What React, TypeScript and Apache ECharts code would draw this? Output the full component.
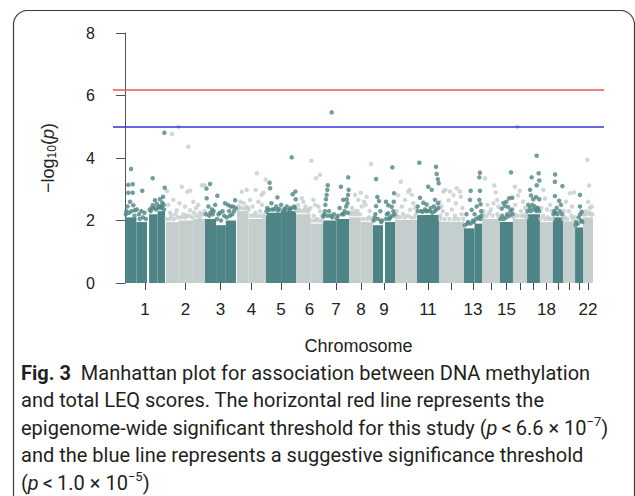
import React, { useEffect, useRef } from 'react';
import * as echarts from 'echarts';

// Chromosomes and their cumulative genomic extent (Mb)
const chromosomes = ['1', '2', '3', '4', '5', '6', '7', '8', '9', '10', '11', '12', '13', '14', '15', '16', '17', '18', '19', '20', '21', '22'];
const chrStart = [0, 252, 492, 689, 867, 1052, 1218, 1378, 1525, 1661, 1796, 1931, 2085, 2196, 2306, 2386, 2472, 2552, 2632, 2694, 2768, 2817];
const chrEnd = [246, 492, 683, 867, 1052, 1218, 1378, 1525, 1661, 1796, 1931, 2085, 2196, 2306, 2386, 2472, 2552, 2632, 2694, 2768, 2817, 2878];
const labelledChromosomes = ['1', '2', '3', '4', '5', '6', '7', '8', '9', '11', '13', '15', '18', '22'];

// Dense body of points per chromosome: [chromosome index, start Mb, end Mb, top -log10(p)]
const bodyBlocks: [number, number, number, number][] = [
  [0, 0, 70, 2.1], [0, 70, 135, 1.95], [0, 148, 200, 2.2], [0, 200, 246, 2.3],
  [1, 252, 330, 1.95], [1, 330, 420, 2.0], [1, 420, 492, 2.05],
  [2, 492, 560, 2.05], [2, 560, 620, 1.85], [2, 620, 683, 2.0],
  [3, 689, 760, 2.3], [3, 760, 867, 2.05],
  [4, 867, 960, 2.25], [4, 960, 1052, 2.3],
  [5, 1052, 1140, 2.2], [5, 1140, 1218, 1.9],
  [6, 1218, 1300, 2.0], [6, 1300, 1378, 2.05],
  [7, 1378, 1450, 2.1], [7, 1450, 1525, 1.95],
  [8, 1525, 1587, 1.85], [8, 1599, 1661, 1.95],
  [9, 1661, 1796, 2.02],
  [10, 1796, 1931, 2.18],
  [11, 1931, 2085, 1.96],
  [12, 2085, 2150, 1.75], [12, 2150, 2196, 1.9],
  [13, 2196, 2306, 2.05],
  [14, 2306, 2386, 1.95],
  [15, 2386, 2472, 2.05],
  [16, 2472, 2552, 2.2],
  [17, 2552, 2632, 1.95],
  [18, 2632, 2694, 2.1],
  [19, 2694, 2768, 1.97],
  [20, 2768, 2817, 1.78],
  [21, 2817, 2878, 2.1],
];

// Sparse points above the dense body: [position Mb, -log10(p)]
const darkPoints: [number, number][] = [
  // chr1
  [37, 3.65], [20, 3.14], [47, 3.16], [20, 2.89], [47, 2.89], [106, 2.95], [170, 3.35], [244, 3.05], [242, 4.81],
  [31, 2.6], [51, 2.49], [61, 2.33], [15, 2.45], [86, 2.2], [215, 2.68], [229, 2.57], [195, 2.53], [170, 2.49],
  [184, 2.65], [234, 2.76], [158, 2.3], [205, 2.4], [8, 2.3], [72, 2.35], [100, 2.3], [120, 2.25], [180, 2.4],
  [222, 2.45], [240, 2.35], [5, 2.2], [25, 2.25], [40, 2.3], [58, 2.15], [90, 2.05], [110, 2.1], [128, 2.05],
  [152, 2.35], [165, 2.4], [190, 2.35], [210, 2.45], [225, 2.4], [238, 2.5],
  // chr3
  [523, 3.17], [501, 3.02], [568, 2.79], [502, 2.71], [615, 2.55], [633, 2.5], [650, 2.45], [677, 2.65], [664, 2.45],
  [535, 2.35], [584, 2.25], [554, 2.5], [600, 2.3], [513, 2.45], [525, 2.25], [545, 2.3], [575, 2.2], [610, 2.15],
  [640, 2.3], [660, 2.2], [498, 2.2], [518, 2.15], [540, 2.2], [565, 2.05], [590, 2.0], [625, 2.1], [645, 2.15],
  [670, 2.3], [680, 2.4],
  // chr5
  [889, 3.21], [892, 3.03], [1025, 4.02], [937, 2.74], [1031, 2.84], [1050, 2.68], [886, 2.34], [917, 2.36],
  [948, 2.37], [979, 2.37], [1010, 2.34], [1030, 2.23], [1048, 2.93], [900, 2.55], [960, 2.5], [995, 2.45], [1040, 2.45],
  [875, 2.4], [930, 2.45], [970, 2.28], [1020, 2.4], [870, 2.3], [905, 2.35], [940, 2.32], [985, 2.35], [1015, 2.35],
  [1045, 2.4],
  // chr7
  [1247, 3.13], [1244, 2.98], [1240, 2.82], [1236, 2.68], [1271, 5.46], [1328, 3.08], [1373, 3.38], [1375, 2.98],
  [1372, 2.82], [1363, 2.68], [1342, 2.66], [1368, 2.55], [1220, 2.13], [1302, 2.07], [1232, 2.5], [1255, 2.3],
  [1320, 2.4], [1350, 2.3], [1285, 2.2], [1230, 2.3], [1265, 2.15], [1335, 2.2], [1360, 2.45], [1225, 2.2],
  [1245, 2.15], [1275, 2.1], [1310, 2.15], [1345, 2.2], [1370, 2.25],
  // chr9
  [1544, 3.33], [1552, 2.75], [1562, 2.62], [1544, 2.46], [1605, 2.6], [1619, 2.49], [1644, 3.7], [1655, 2.87],
  [1653, 2.6], [1640, 2.44], [1619, 2.23], [1570, 2.3], [1535, 2.1], [1630, 2.1], [1540, 2.2], [1580, 2.0],
  [1610, 2.2], [1650, 2.3], [1530, 2.0], [1555, 2.05], [1575, 1.95], [1605, 2.05], [1625, 2.05], [1645, 2.15], [1658, 2.2],
  // chr11
  [1810, 3.85], [1913, 3.72], [1917, 3.49], [1924, 3.32], [1929, 3.19], [1865, 3.08], [1886, 2.98], [1814, 2.73],
  [1835, 2.57], [1855, 2.51], [1906, 2.66], [1880, 2.4], [1900, 2.45], [1925, 2.55], [1800, 2.45], [1845, 2.35],
  [1820, 2.3], [1860, 2.3], [1890, 2.25], [1915, 2.35], [1800, 2.3], [1830, 2.28], [1850, 2.3], [1875, 2.3],
  [1905, 2.3], [1928, 2.4],
  // chr13
  [2183, 3.53], [2179, 3.38], [2126, 2.95], [2183, 2.95], [2122, 2.66], [2179, 2.66], [2187, 2.52], [2163, 2.45],
  [2132, 2.34], [2100, 2.2], [2150, 2.2], [2190, 2.3], [2110, 1.95], [2140, 2.0], [2175, 2.1], [2090, 1.85],
  [2105, 1.9], [2125, 1.9], [2145, 1.95], [2160, 2.05], [2185, 2.05], [2192, 2.15],
  // chr15
  [2374, 3.54], [2382, 2.73], [2363, 2.71], [2337, 2.46], [2317, 2.38], [2357, 2.43], [2327, 2.56], [2345, 2.6],
  [2370, 2.3], [2320, 2.15], [2350, 2.2], [2380, 2.35], [2310, 2.05], [2330, 2.05], [2345, 2.1], [2365, 2.15], [2383, 2.2],
  // chr17
  [2532, 4.07], [2544, 3.51], [2501, 3.38], [2532, 3.13], [2548, 3.28], [2528, 2.75], [2491, 2.98], [2497, 2.8],
  [2511, 2.68], [2548, 2.68], [2480, 2.5], [2520, 2.45], [2540, 2.4], [2490, 2.4], [2505, 2.5], [2535, 2.35],
  [2476, 2.3], [2495, 2.3], [2515, 2.35], [2530, 2.3], [2548, 2.3],
  // chr19
  [2645, 3.47], [2644, 3.24], [2690, 3.1], [2644, 2.78], [2670, 2.63], [2681, 2.5], [2655, 2.4], [2640, 2.3],
  [2648, 2.25], [2675, 2.3], [2636, 2.2], [2660, 2.2], [2688, 2.2],
  // chr21
  [2798, 2.82], [2798, 2.45], [2809, 2.28], [2790, 2.1], [2805, 2.0], [2775, 1.95], [2800, 2.2], [2772, 1.85],
  [2785, 1.9], [2812, 1.95],
];

const lightPoints: [number, number][] = [
  // chr2
  [289, 4.77], [329, 5.0], [389, 4.36], [349, 3.08], [383, 2.92], [400, 2.95], [472, 3.13], [488, 3.13], [258, 2.94],
  [297, 2.66], [266, 2.5], [318, 2.33], [400, 2.33], [369, 2.45], [437, 2.4], [277, 2.25], [461, 2.25], [335, 2.55],
  [420, 2.6], [450, 2.5], [285, 2.15], [310, 2.2], [360, 2.2], [380, 2.15], [425, 2.25], [470, 2.2], [256, 2.05],
  [275, 2.05], [300, 2.05], [325, 2.1], [345, 2.1], [370, 2.1], [395, 2.15], [415, 2.1], [440, 2.15], [460, 2.1],
  [480, 2.2], [490, 2.3],
  // chr4
  [810, 3.51], [748, 2.98], [718, 2.92], [804, 2.98], [851, 2.89], [865, 3.31], [769, 2.66], [820, 2.6], [748, 2.43],
  [697, 2.38], [843, 2.5], [840, 2.82], [730, 2.55], [785, 2.45], [710, 2.6], [700, 2.45], [760, 2.35], [800, 2.25],
  [830, 2.3], [860, 2.2], [693, 2.35], [715, 2.4], [735, 2.38], [755, 2.4], [775, 2.15], [795, 2.15], [815, 2.15],
  [835, 2.15], [855, 2.1],
  // chr6
  [1146, 3.91], [1199, 3.46], [1175, 3.35], [1087, 2.71], [1097, 2.6], [1158, 2.66], [1169, 2.5], [1127, 2.34],
  [1189, 2.45], [1199, 2.3], [1065, 2.5], [1110, 2.45], [1140, 2.4], [1210, 2.15], [1070, 2.35], [1100, 2.3],
  [1160, 2.15], [1180, 2.05], [1058, 2.3], [1080, 2.3], [1105, 2.35], [1125, 2.28], [1150, 2.0], [1170, 2.0],
  [1195, 2.0], [1212, 2.0],
  // chr8
  [1513, 3.81], [1450, 2.89], [1486, 2.76], [1435, 2.66], [1456, 2.45], [1415, 2.3], [1415, 2.82], [1480, 2.5],
  [1395, 2.4], [1505, 2.3], [1470, 2.6], [1390, 2.25], [1430, 2.3], [1500, 2.1], [1520, 2.05], [1385, 2.2],
  [1405, 2.2], [1425, 2.2], [1445, 2.2], [1465, 2.05], [1490, 2.05], [1515, 2.05],
  // chr10
  [1696, 3.24], [1742, 2.92], [1763, 2.82], [1722, 2.66], [1702, 2.45], [1753, 2.34], [1773, 2.55], [1750, 2.98],
  [1680, 2.81], [1785, 2.4], [1670, 2.3], [1675, 2.15], [1710, 2.2], [1740, 2.15], [1790, 2.2], [1668, 2.1],
  [1690, 2.1], [1720, 2.1], [1760, 2.1], [1780, 2.1],
  // chr12
  [2060, 2.93], [1999, 2.93], [1958, 2.93], [1970, 2.98], [2040, 3.03], [2020, 2.81], [2065, 2.76], [1990, 2.65],
  [2035, 2.55], [1945, 2.45], [2075, 2.4], [1955, 2.3], [2010, 2.35], [1935, 2.6], [1940, 2.15], [1980, 2.2],
  [2030, 2.15], [2070, 2.2], [1938, 2.05], [1965, 2.05], [1995, 2.05], [2025, 2.05], [2050, 2.05], [2080, 2.05],
  // chr14
  [2271, 3.12], [2214, 3.35], [2266, 2.55], [2297, 2.44], [2230, 2.5], [2288, 2.66], [2250, 2.35], [2205, 2.3],
  [2280, 2.9], [2200, 2.2], [2240, 2.25], [2290, 2.2], [2200, 2.1], [2225, 2.15], [2260, 2.15], [2300, 2.1],
  // chr16
  [2413, 5.0], [2398, 3.08], [2429, 2.95], [2417, 2.8], [2448, 2.6], [2400, 2.5], [2460, 2.4], [2435, 2.3],
  [2395, 2.2], [2440, 2.15], [2465, 2.2], [2390, 2.1], [2415, 2.15], [2450, 2.15], [2468, 2.1],
  // chr18
  [2573, 2.98], [2583, 2.7], [2614, 2.5], [2595, 2.35], [2560, 2.4], [2625, 2.3], [2570, 2.15], [2600, 2.1],
  [2556, 2.05], [2585, 2.05], [2610, 2.05], [2628, 2.05],
  // chr20
  [2737, 2.87], [2761, 2.9], [2712, 2.6], [2749, 2.45], [2700, 2.3], [2730, 2.3], [2705, 2.1], [2745, 2.15],
  [2698, 2.05], [2720, 2.05], [2755, 2.05], [2765, 2.1],
  // chr22
  [2843, 3.94], [2854, 3.12], [2848, 2.6], [2860, 2.4], [2835, 2.3], [2870, 2.45], [2825, 2.2], [2855, 2.25],
  [2820, 2.2], [2840, 2.2], [2865, 2.2], [2875, 2.2],
];

// Significance thresholds: -log10(6.6e-7) and -log10(1e-5)
const thresholds = [6.18, 5.0];
const thresholdColors = ['#ee5555', '#3333dd'];

const yTicks = [0, 2, 4, 6, 8];

const captionLines = [
  '{b|Fig. 3}{r|  Manhattan plot for association between DNA methylation}',
  '{r|and total LEQ scores. The horizontal red line represents the}',
  '{r|epigenome-wide significant threshold for this study (}{i|p}{r|\u2009<\u20096.6 × 10}{s|\u22127}{r|)}',
  '{r|and the blue line represents a suggestive significance threshold}',
  '{r|(}{i|p}{r|\u2009<\u20091.0 × 10}{s|\u22125}{r|)}',
];
const captionY = [373, 400, 428, 455, 483];

const DARK = '#4e8485';
const LIGHT = '#c3cecd';

export default function App() {
  const ref = useRef<HTMLDivElement>(null);

  useEffect(() => {
    if (!ref.current) return;
    const chart = echarts.init(ref.current, undefined, { renderer: 'svg' });
    const centers = chromosomes.map((_, i) => (chrStart[i] + chrEnd[i]) / 2);
    const labelCenters = labelledChromosomes.map((c) => centers[chromosomes.indexOf(c)]);
    const capFont = 'Roboto, "Noto Sans", sans-serif';
    const capSize = 20;
    const axisFont = '"Liberation Sans", Arial, sans-serif';
    const rich = {
      b: { fontFamily: capFont, fontSize: capSize, fontWeight: 'bold', fill: '#231f20', lineHeight: 27 },
      r: { fontFamily: capFont, fontSize: capSize, fill: '#231f20', lineHeight: 27 },
      i: { fontFamily: capFont, fontSize: capSize, fontStyle: 'italic', fill: '#231f20', lineHeight: 27 },
      s: { fontFamily: capFont, fontSize: 13, fill: '#231f20', lineHeight: 13, verticalAlign: 'top' },
    };

    const option: any = {
      animation: false,
      backgroundColor: '#ffffff',
      grid: { left: 113, right: 31, top: 33, bottom: 213, containLabel: false },
      xAxis: {
        type: 'value',
        min: -74,
        max: 2946,
        name: 'Chromosome',
        nameLocation: 'middle',
        nameGap: 52,
        nameMoveOverlap: false,
        nameTextStyle: { fontFamily: axisFont, fontSize: 18, color: '#222' },
        offset: 2,
        axisLine: { show: false },
        splitLine: { show: false },
        axisTick: { show: true, length: 7, customValues: centers, lineStyle: { color: '#444', width: 1 } },
        axisLabel: {
          customValues: labelCenters,
          margin: 16,
          fontFamily: axisFont,
          fontSize: 17,
          color: '#222',
          formatter: (v: number) => {
            const i = centers.findIndex((c) => Math.abs(c - v) < 0.01);
            return i >= 0 ? chromosomes[i] : '';
          },
        },
      },
      yAxis: {
        type: 'value',
        min: 0,
        max: 8,
        interval: 2,
        name: '{a|\u2212log}{s|10}{a|(}{i|p}{a|)}',
        nameLocation: 'middle',
        nameRotate: 90,
        nameGap: 55,
        nameMoveOverlap: false,
        nameTextStyle: {
          rich: {
            a: { fontFamily: axisFont, fontSize: 18, color: '#222', lineHeight: 20 },
            i: { fontFamily: axisFont, fontSize: 18, fontStyle: 'italic', color: '#222', lineHeight: 20 },
            s: { fontFamily: axisFont, fontSize: 12, color: '#222', lineHeight: 12, verticalAlign: 'bottom' },
          },
        },
        axisLine: { show: true, lineStyle: { color: '#555', width: 1 } },
        axisTick: { show: true, length: 9, lineStyle: { color: '#555', width: 1 } },
        axisLabel: {
          margin: 18,
          fontFamily: axisFont,
          fontSize: 16,
          color: '#222',
          customValues: yTicks,
        },
        splitLine: { show: false },
      },
      series: [
        {
          type: 'custom',
          name: 'body',
          silent: true,
          encode: { x: [1, 2], y: 3 },
          data: bodyBlocks.map((b) => [b[0], b[1], b[2], b[3]]),
          renderItem: (params: any, api: any) => {
            const ci = api.value(0);
            const p0 = api.coord([api.value(1), api.value(3)]);
            const p1 = api.coord([api.value(2), 0]);
            return {
              type: 'rect',
              shape: { x: p0[0], y: p0[1], width: p1[0] - p0[0], height: p1[1] - p0[1] },
              style: { fill: ci % 2 === 0 ? DARK : LIGHT },
            };
          },
          z: 1,
        },
        {
          type: 'scatter',
          name: 'light',
          data: lightPoints,
          symbolSize: 4.5,
          itemStyle: { color: LIGHT },
          silent: true,
          z: 2,
        },
        {
          type: 'scatter',
          name: 'dark',
          data: darkPoints,
          symbolSize: 4.5,
          itemStyle: { color: DARK },
          silent: true,
          z: 3,
          markLine: {
            silent: true,
            symbol: 'none',
            label: { show: false },
            data: thresholds.map((t, i) => ({ yAxis: t, lineStyle: { color: thresholdColors[i], width: 1.5, type: 'solid' } })),
          },
        },
      ],
      graphic: [
        {
          type: 'rect',
          shape: { x: 13.5, y: 10.5, width: 621, height: 520, r: 14 },
          style: { fill: 'none', stroke: '#3a3a3a', lineWidth: 1.2 },
          silent: true,
          z: -10,
        },
        ...captionLines.map((t, i) => ({
          type: 'text',
          x: 21,
          y: captionY[i],
          style: { text: t, rich, align: 'left', verticalAlign: 'middle' },
          silent: true,
        })),
      ],
    };
    chart.setOption(option);
    return () => chart.dispose();
  }, []);

  return <div ref={ref} style={{ position: 'fixed', left: 0, top: 0, width: 635, height: 496, background: '#fff' }} />;
}
